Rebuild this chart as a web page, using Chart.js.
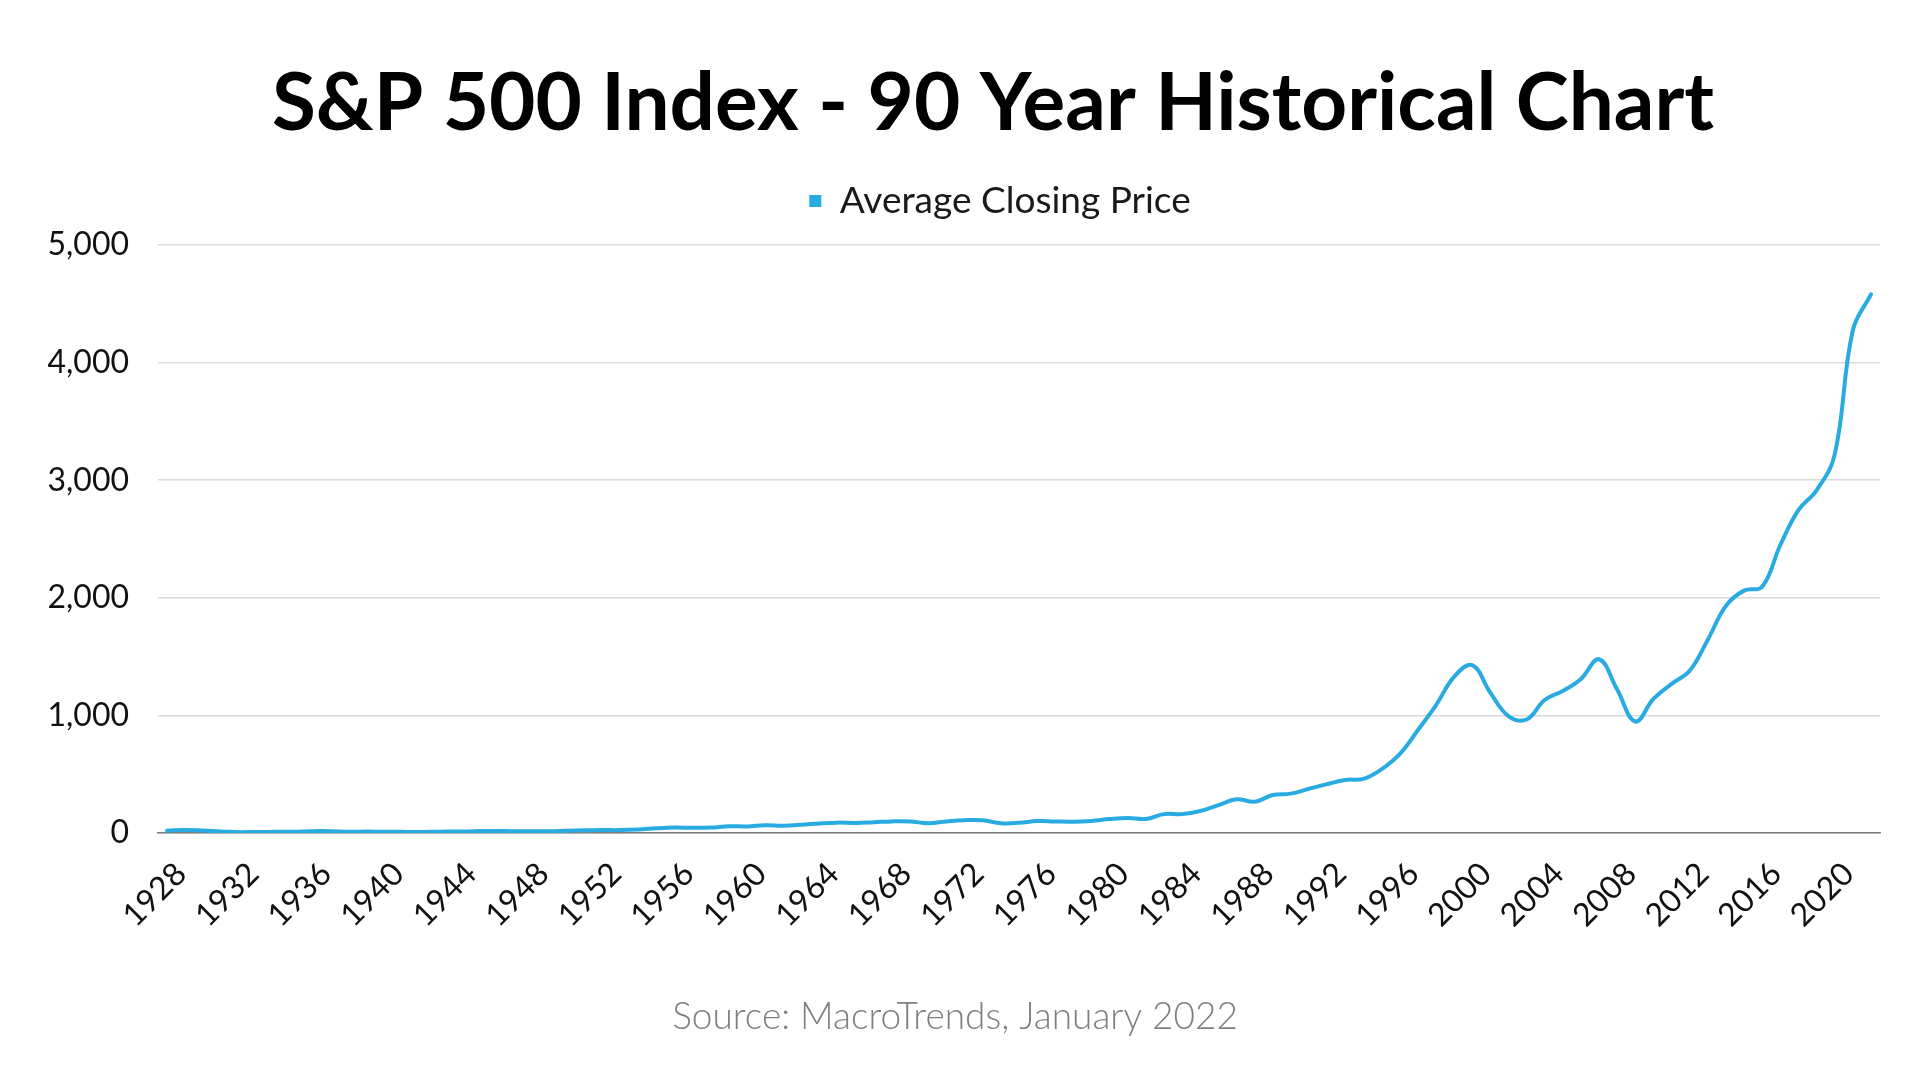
<!DOCTYPE html>
<html>
<head>
<meta charset="utf-8">
<script src="https://cdn.jsdelivr.net/npm/chart.js@4.4.1/dist/chart.umd.min.js"></script>
<style>
  html, body { margin: 0; padding: 0; background: #ffffff; }
  #wrap { width: 1920px; height: 1080px; }
</style>
</head>
<body>
<div id="wrap"><canvas id="c" width="1920" height="1080"></canvas></div>
<script>
// ---- data ----
const years = [
  1928,1929,1930,1931,1932,1933,1934,1935,1936,1937,1938,1939,
  1940,1941,1942,1943,1944,1945,1946,1947,1948,1949,
  1950,1951,1952,1953,1954,1955,1956,1957,1958,1959,
  1960,1961,1962,1963,1964,1965,1966,1967,1968,1969,
  1970,1971,1972,1973,1974,1975,1976,1977,1978,1979,
  1980,1981,1982,1983,1984,1985,1986,1987,1988,1989,
  1990,1991,1992,1993,1994,1995,1996,1997,1998,1999,
  2000,2001,2002,2003,2004,2005,2006,2007,2008,2009,
  2010,2011,2012,2013,2014,2015,2016,2017,2018,2019,
  2020,2021,2022
];
const avgClose = [
  19.95,26.02,21.03,13.66,6.93,8.96,9.84,10.60,15.47,15.41,11.49,12.06,
  11.02,9.82,8.67,11.50,12.47,15.16,17.08,15.17,15.53,15.23,
  18.40,22.34,24.50,24.73,29.69,40.49,46.62,44.38,46.24,57.38,
  55.85,66.27,62.38,69.87,81.37,88.17,85.26,91.93,98.70,97.84,
  83.22,98.29,109.20,107.43,82.85,86.16,102.01,98.20,96.02,103.01,
  118.78,128.05,119.71,160.41,160.46,186.84,236.34,286.83,265.79,322.84,
  334.59,376.18,415.74,451.41,460.42,541.72,670.49,873.43,1085.50,1327.33,
  1427.22,1194.18,993.94,965.23,1130.65,1207.23,1310.46,1477.18,1220.04,948.05,
  1139.97,1267.64,1379.35,1643.80,1931.38,2061.07,2094.65,2449.08,2746.21,2913.36,
  3217.86,4273.41,4580.00
];
const xTickLabels = ['1928','1932','1936','1940','1944','1948','1952','1956','1960','1964','1968','1972',
                     '1976','1980','1984','1988','1992','1996','2000','2004','2008','2012','2016','2020'];
const yMin = 0, yMax = 5000, yStep = 1000;
const titleText = 'S&P 500 Index - 90 Year Historical Chart';
const seriesName = 'Average Closing Price';
const sourceText = 'Source: MacroTrends, January 2022';

// ---- styles ----
const lineColor = '#29ABE2';
const FONT = 'Lato, "Open Sans", sans-serif';

function shiftBox(box, centerX) {
  if (!box) return;
  const dx = centerX - (box.left + box.right) / 2;
  box.left += dx;
  box.right += dx;
}

const extras = {
  id: 'extras',
  afterInit(chart) {
    const lg = chart.legend;
    if (lg) {
      const f = lg.fit;
      lg.fit = function () { f.call(this); this.height += 15.5; };
    }
  },
  afterLayout(chart) {
    shiftBox(chart.titleBlock, 993);
    shiftBox(chart.legend, 1000);
  },
  afterDraw(chart) {
    const ctx = chart.ctx;
    ctx.save();
    ctx.font = '300 37px ' + FONT;
    ctx.fillStyle = '#7f7f7f';
    ctx.textAlign = 'center';
    ctx.textBaseline = 'middle';
    ctx.fillText(sourceText, 955, 1017);
    ctx.restore();
  }
};

function build() {
  Chart.defaults.font.family = FONT;
  new Chart(document.getElementById('c'), {
    type: 'line',
    data: {
      labels: years.map(String),
      datasets: [{
        label: seriesName,
        data: avgClose,
        borderColor: lineColor,
        backgroundColor: lineColor,
        borderWidth: 4,
        pointRadius: 0,
        tension: 0.4,
        fill: false,
        borderCapStyle: 'round',
        borderJoinStyle: 'round'
      }]
    },
    options: {
      responsive: false,
      animation: false,
      devicePixelRatio: 1,
      layout: { padding: { top: 56, left: 0, right: 40, bottom: 137 } },
      plugins: {
        title: {
          display: true,
          text: titleText,
          color: '#000000',
          font: { size: 80, weight: '700', family: FONT },
          padding: { top: 0, bottom: 20.5 }
        },
        legend: {
          display: true,
          position: 'top',
          labels: {
            color: '#1a1a1a',
            font: { size: 37, family: FONT },
            boxWidth: 12,
            boxHeight: 12,
            padding: 10,
            generateLabels(chart) {
              const items = Chart.defaults.plugins.legend.labels.generateLabels(chart);
              items.forEach(it => { it.lineWidth = 0; it.fillStyle = lineColor; it.strokeStyle = lineColor; });
              return items;
            }
          }
        },
        tooltip: { enabled: false }
      },
      scales: {
        x: {
          type: 'category',
          offset: true,
          grid: { display: false, drawTicks: false },
          border: { display: true, color: '#7a7a7a', width: 1.5 },
          ticks: {
            autoSkip: false,
            maxRotation: 45,
            minRotation: 45,
            padding: 22,
            labelOffset: 14,
            color: '#111111',
            font: { size: 32 },
            callback(v, i) {
              const l = String(years[i]);
              return xTickLabels.includes(l) ? l : '';
            }
          },
          afterFit(s) { s.height = 110; s.paddingLeft = 0; s.paddingRight = 0; }
        },
        y: {
          min: yMin,
          max: yMax,
          grid: { color: '#d9d9d9', lineWidth: 1.5, drawTicks: false },
          border: { display: false },
          ticks: {
            stepSize: yStep,
            padding: 29,
            color: '#111111',
            font: { size: 32 },
            callback: v => Number(v).toLocaleString('en-US')
          },
          afterFit(s) { s.width = 158; }
        }
      }
    },
    plugins: [extras]
  });
}

Promise.all([
  document.fonts.load('700 80px Lato'),
  document.fonts.load('400 37px Lato'),
  document.fonts.load('300 37px Lato')
]).catch(() => {}).then(build);
</script>
</body>
</html>
